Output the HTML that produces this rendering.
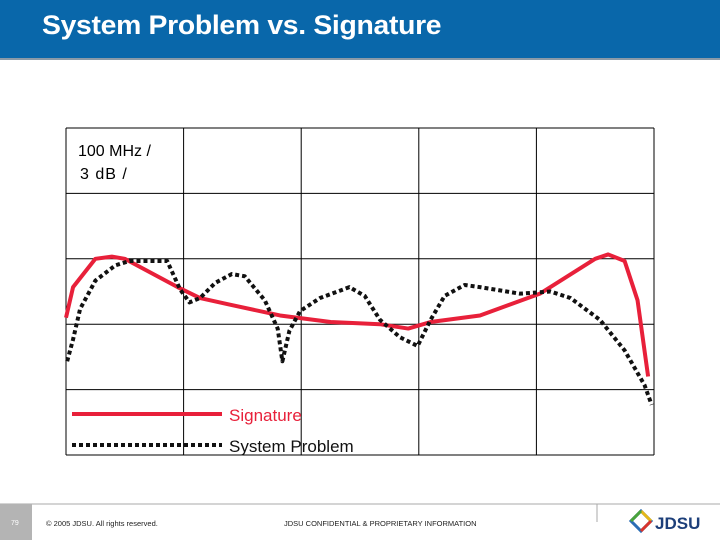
<!DOCTYPE html>
<html><head><meta charset="utf-8"><style>
body{margin:0;width:720px;height:540px;background:#fff;position:relative;overflow:hidden;font-family:"Liberation Sans",sans-serif}
.hdr{position:absolute;left:0;top:0;width:720px;height:58px;background:#0967aa;border-bottom:2px solid #8a9aa8}
.ttl{position:absolute;left:42px;top:10px;color:#fff;font-weight:bold;font-size:27px;letter-spacing:-0.3px;transform:scaleX(1.05);transform-origin:0 0;white-space:nowrap}
</style></head><body>
<div class="hdr"><div class="ttl">System Problem vs. Signature</div></div>
<svg id="chart" width="720" height="540" style="position:absolute;left:0;top:0">
<g id="grid"></g><g id="series"></g>
<text x="78" y="156" font-size="16" font-family="Liberation Sans">100 MHz /</text>
<text x="80" y="179" font-size="16" letter-spacing="1" font-family="Liberation Sans">3 dB /</text>
<line x1="72" y1="414" x2="222" y2="414" stroke="#e8203a" stroke-width="4"/>
<text x="229" y="421" font-size="17" fill="#e8203a" font-family="Liberation Sans">Signature</text>
<line x1="72" y1="445" x2="222" y2="445" stroke="#111" stroke-width="4" stroke-dasharray="4,3"/>
<text x="229" y="452" font-size="17" fill="#111" font-family="Liberation Sans">System Problem</text>
<line x1="0" y1="504" x2="720" y2="504" stroke="#aaa" stroke-width="1"/>
<rect x="0" y="504" width="32" height="36" fill="#b4b4b4"/>
<text x="11" y="525" font-size="7" fill="#fff" font-family="Liberation Sans">79</text>
<text x="46" y="526" font-size="7.5" fill="#222" font-family="Liberation Sans">© 2005 JDSU. All rights reserved.</text>
<text x="284" y="526" font-size="7.5" fill="#222" font-family="Liberation Sans">JDSU CONFIDENTIAL &amp; PROPRIETARY INFORMATION</text>
<line x1="597" y1="504" x2="597" y2="522" stroke="#aaa"/>
<g>
<path d="M641 511 L651 521 L641 531 L631 521 Z" fill="none" stroke="#2a6db5" stroke-width="3"/>
<path d="M641 511 L651 521" stroke="#e6b817" stroke-width="3"/>
<path d="M651 521 L641 531" stroke="#d9342b" stroke-width="3"/>
<path d="M631 521 L641 511" stroke="#4aa33a" stroke-width="3"/>
<text x="655" y="529" font-size="17" font-weight="bold" fill="#1d3f7a" font-family="Liberation Sans">JDSU</text>
</g>
</svg>
<script>
const xTicks=[0,100,200,300,400,500];
const yTicks=[0,3,6,9,12,15];
const sigFreq=[0,6,25,39,50,95,114,139,182,225,267,291,310,352,403,450,461,475,486,495];
const sigDb=[6.3,7.7,9.0,9.1,9.0,7.7,7.2,6.9,6.4,6.1,6.0,5.8,6.1,6.4,7.4,9.0,9.2,8.9,7.1,3.6];
const sysFreq=[1,6,12,25,42,54,86,97,105,114,127,141,152,169,180,184,190,199,216,241,254,267,284,299,310,322,339,352,386,412,429,454,475,492,498];
const sysDb=[4.3,5.3,6.7,8.0,8.7,8.9,8.9,7.6,7.0,7.2,7.9,8.3,8.2,7.1,5.8,4.3,5.7,6.6,7.2,7.7,7.3,6.2,5.4,5.0,6.2,7.3,7.8,7.7,7.4,7.5,7.2,6.2,4.8,3.2,2.3];
const L=66,R=654,T=128,B=455;
const X=f=>L+(f-0)/(500-0)*(R-L);
const Y=v=>B-(v-0)/(15-0)*(B-T);
const NS='http://www.w3.org/2000/svg';
const grid=document.getElementById('grid');
xTicks.forEach(t=>{const l=document.createElementNS(NS,'line');
l.setAttribute('x1',X(t));l.setAttribute('x2',X(t));l.setAttribute('y1',T);l.setAttribute('y2',B);
l.setAttribute('stroke','#000');l.setAttribute('stroke-width','1');


grid.appendChild(l);});
yTicks.forEach(t=>{const l=document.createElementNS(NS,'line');
l.setAttribute('x1',L);l.setAttribute('x2',R);l.setAttribute('y1',Y(t));l.setAttribute('y2',Y(t));
l.setAttribute('stroke','#000');l.setAttribute('stroke-width','1');


grid.appendChild(l);});
const ser=document.getElementById('series');
function poly(fs,ds,stroke,dash){const p=document.createElementNS(NS,'polyline');
p.setAttribute('points',fs.map((f,i)=>X(f)+','+Y(ds[i])).join(' '));
p.setAttribute('fill','none');p.setAttribute('stroke',stroke);p.setAttribute('stroke-width','4');
p.setAttribute('stroke-linejoin','round');if(dash)p.setAttribute('stroke-dasharray',dash);
ser.appendChild(p);return p;}
const s1=poly(sigFreq,sigDb,'#e8203a',null);


const s2=poly(sysFreq,sysDb,'#111','4,3');


</script>
</body></html>
